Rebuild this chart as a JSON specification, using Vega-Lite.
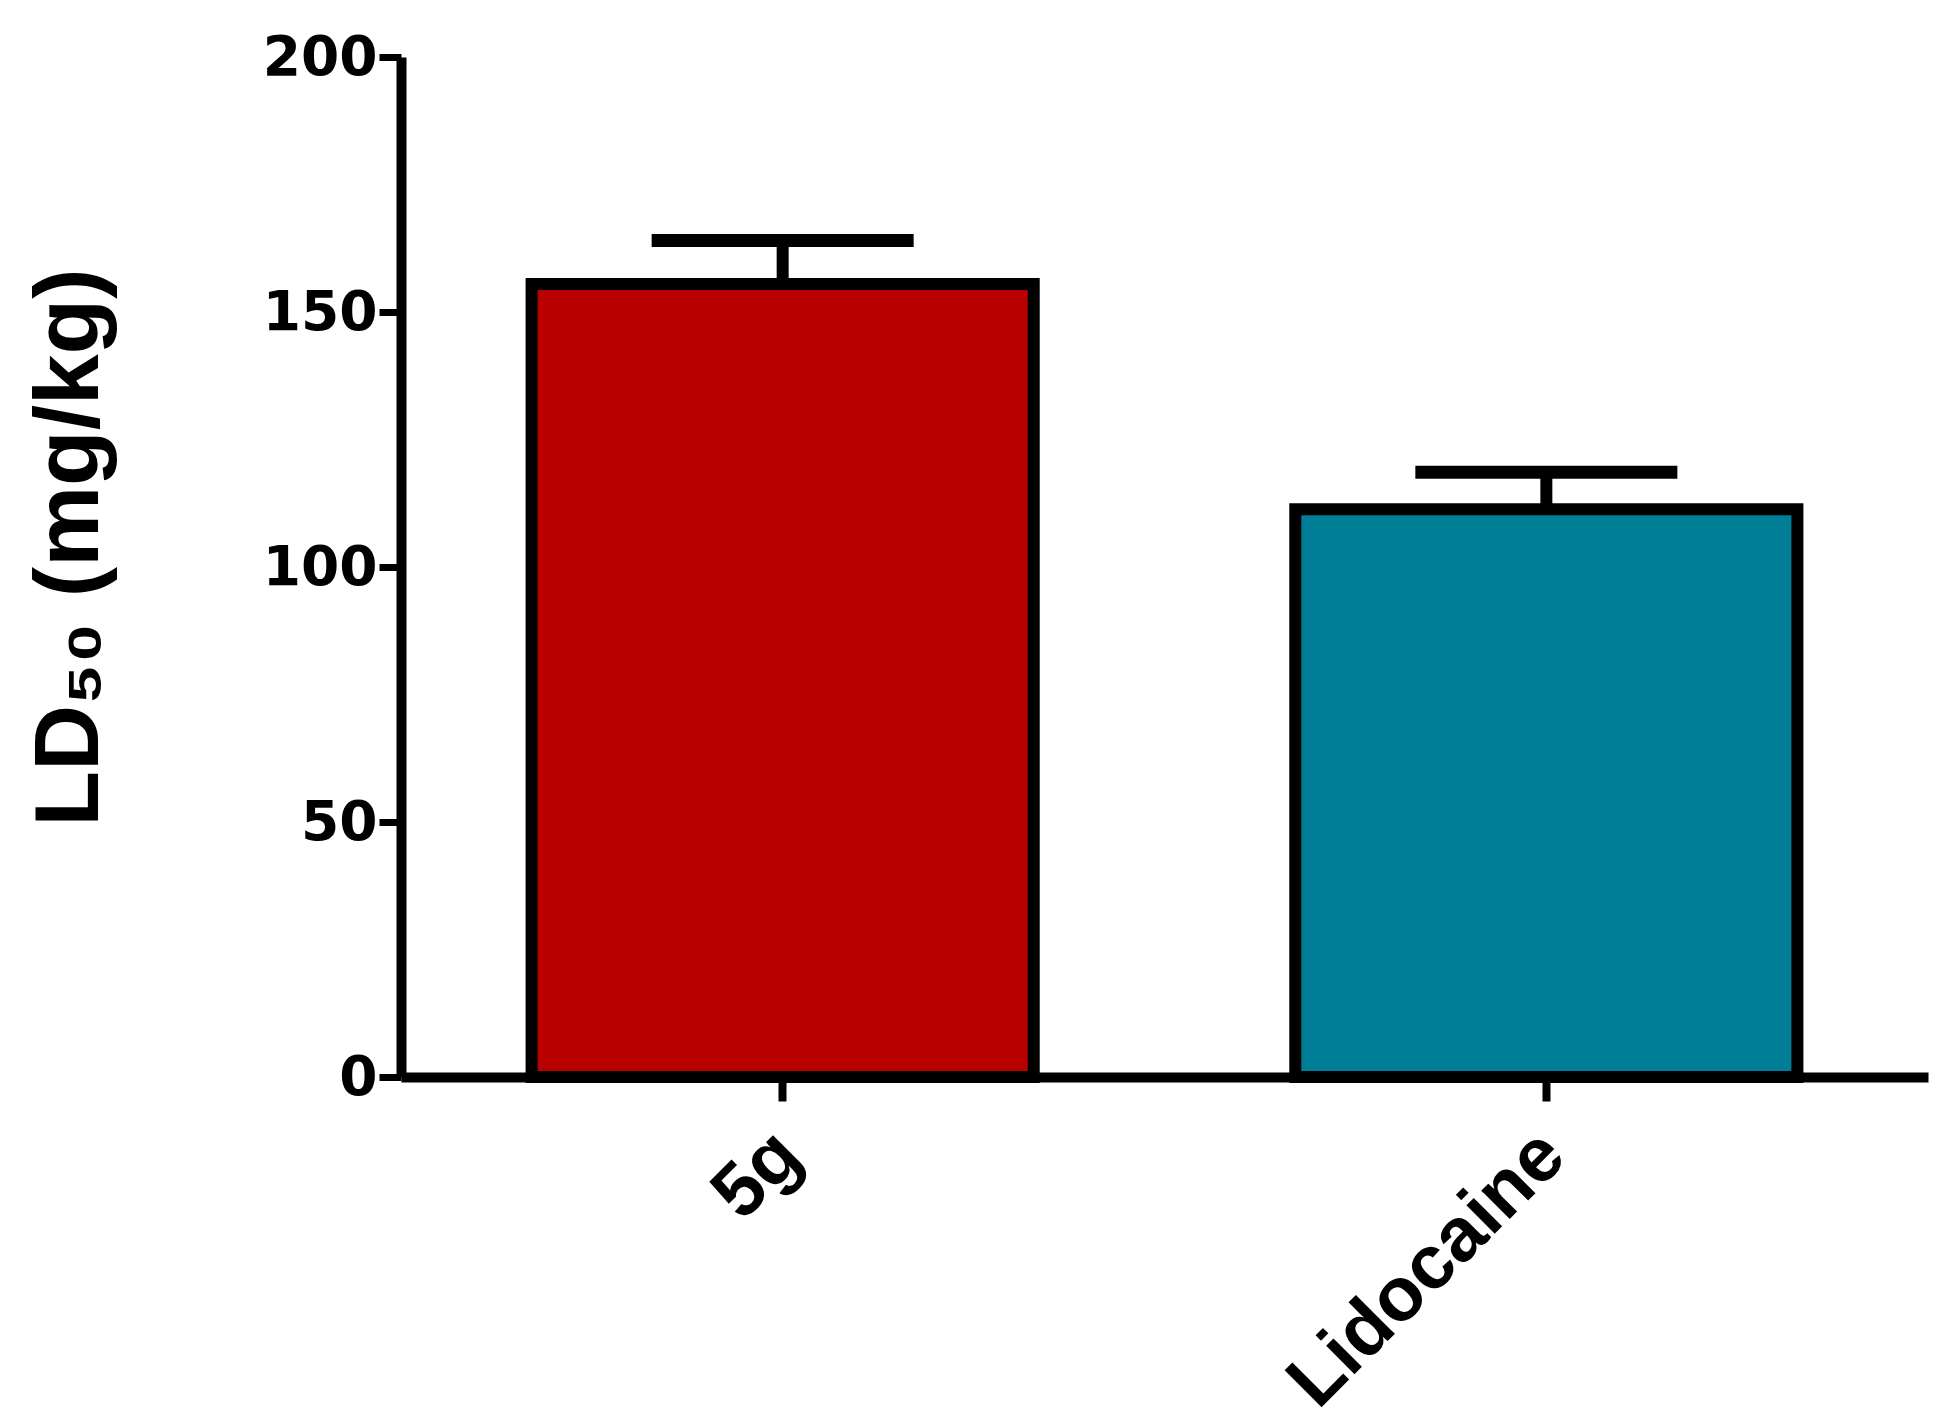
{
  "$schema": "https://vega.github.io/schema/vega-lite/v6.json",
  "width": 1527,
  "height": 1020,
  "autosize": {"type": "none"},
  "padding": {"left": 401, "top": 57, "right": 22, "bottom": 350},
  "background": "white",
  "config": {
    "view": {"stroke": null},
    "font": "Liberation Sans"
  },
  "data": {
    "values": [
      {"group": "5g", "value": 155.5, "upper": 164.0},
      {"group": "Lidocaine", "value": 111.3, "upper": 118.6}
    ]
  },
  "encoding": {
    "x": {
      "field": "group",
      "type": "nominal",
      "sort": null,
      "scale": {"paddingInner": 0.3425, "paddingOuter": 0.171},
      "axis": {
        "title": null,
        "labelAngle": -45,
        "labelLimit": 0,
        "labelFont": "Liberation Sans",
        "labelFontWeight": "bold",
        "labelFontSize": 76,
        "labelColor": "black",
        "labelPadding": 16,
        "labelOffset": -20,
        "domainColor": "black",
        "domainWidth": 10,
        "tickColor": "black",
        "tickWidth": 8,
        "tickSize": 24
      }
    }
  },
  "layer": [
    {
      "mark": {"type": "rule", "color": "black", "strokeWidth": 12},
      "encoding": {
        "y": {"field": "value", "type": "quantitative"},
        "y2": {"field": "upper"}
      }
    },
    {
      "mark": {"type": "tick", "color": "black", "thickness": 13, "size": 262, "opacity": 1},
      "encoding": {
        "y": {"field": "upper", "type": "quantitative"}
      }
    },
    {
      "mark": {"type": "bar", "stroke": "black", "strokeWidth": 12, "strokeJoin": "miter"},
      "encoding": {
        "y": {
          "field": "value",
          "type": "quantitative",
          "scale": {"domain": [0, 200], "nice": false},
          "axis": {
            "title": "LD₅₀ (mg/kg)",
            "titleFont": "Liberation Sans",
            "titleFontWeight": "bold",
            "titleFontSize": 91,
            "titleColor": "black",
            "titlePadding": 146,
            "titleY": 490,
            "values": [0, 50, 100, 150, 200],
            "labelFont": "DejaVu Sans",
            "labelFontWeight": "bold",
            "labelFontSize": 55,
            "labelColor": "black",
            "labelPadding": 2,
            "domainColor": "black",
            "domainWidth": 10,
            "tickColor": "black",
            "tickWidth": 7,
            "tickSize": 22,
            "grid": false
          }
        },
        "color": {
          "field": "group",
          "type": "nominal",
          "scale": {"domain": ["5g", "Lidocaine"], "range": ["#B80000", "#007D97"]},
          "legend": null
        }
      }
    }
  ]
}
